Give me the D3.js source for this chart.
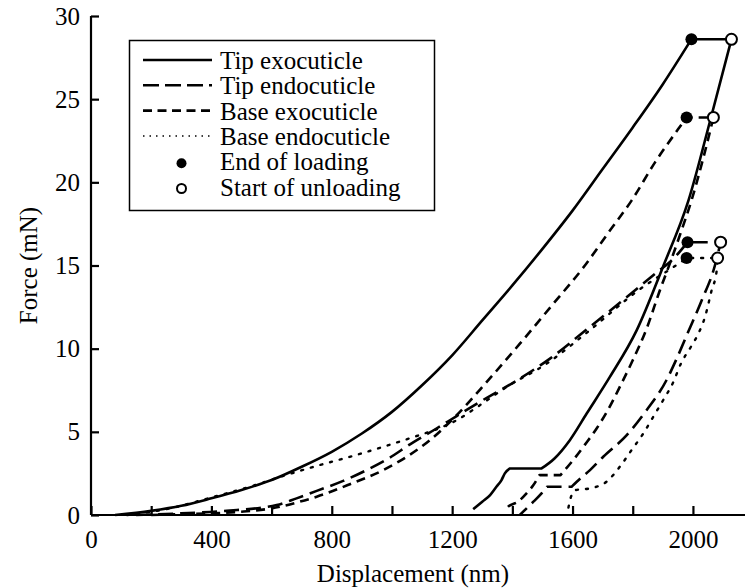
<!DOCTYPE html>
<html>
<head>
<meta charset="utf-8">
<script src="https://cdn.jsdelivr.net/npm/d3@7"></script>
<style>
  html, body { margin: 0; padding: 0; background: #fff; }
  svg { display: block; }
  text { font-family: "Liberation Serif", "Times New Roman", serif; fill: #000; }
</style>
</head>
<body>
<svg id="chart" width="745" height="588"></svg>
<script>
// ---- Data (displacement nm, force mN) ----
const xTickValues = [0, 400, 800, 1200, 1600, 2000];
const xMinorTicks = [200, 600, 1000, 1400, 1800];
const yTickValues = [0, 5, 10, 15, 20, 25, 30];

const tipExoLoading = [[80,0],[200,0.25],[300,0.55],[400,1.0],[500,1.5],[600,2.1],[700,2.9],[800,3.8],[900,4.9],[1000,6.2],[1100,7.8],[1200,9.6],[1300,11.7],[1400,13.8],[1500,16.0],[1600,18.3],[1700,20.8],[1800,23.3],[1900,25.9],[1995,28.6]];
const tipExoUnloading = [[2128,28.6],[2060,23.9],[1985,18.9],[1900,14.9],[1813,11.1],[1724,8.3],[1647,6.1],[1591,4.5],[1540,3.4],[1497,2.8],[1392,2.8],[1375,2.5],[1364,2.1],[1347,1.7],[1326,1.2],[1300,0.8],[1270,0.35]];

const tipEndoLoading = [[150,0],[300,0.1],[450,0.25],[617,0.6],[683,1.0],[750,1.45],[838,2.05],[916,2.7],[993,3.45],[1060,4.25],[1148,5.2],[1215,5.95],[1292,6.8],[1425,8.2],[1525,9.4],[1650,11.2],[1760,12.8],[1874,14.5],[1940,15.5],[1982,16.4]];
const tipEndoUnloading = [[2092,16.4],[2073,15.0],[2029,12.9],[1984,11.0],[1946,9.4],[1912,8.1],[1846,6.3],[1780,4.8],[1702,3.5],[1658,2.7],[1614,2.0],[1597,1.7],[1515,1.7],[1497,1.3],[1470,0.8],[1436,0.2],[1425,0.0]];

const baseExoLoading = [[200,0],[300,0.05],[400,0.1],[500,0.2],[600,0.4],[694,0.8],[750,1.1],[860,1.85],[971,2.7],[1049,3.5],[1126,4.5],[1215,6.0],[1315,8.0],[1425,10.3],[1536,12.7],[1641,15.0],[1720,17.0],[1796,18.9],[1874,21.2],[1951,23.2],[1979,23.9]];
const baseExoUnloading = [[2068,23.9],[2035,21.5],[1995,18.9],[1960,17.0],[1925,15.2],[1890,13.5],[1846,11.2],[1800,9.3],[1757,7.7],[1720,6.4],[1680,5.2],[1640,4.2],[1602,3.3],[1560,2.4],[1490,2.4],[1470,1.8],[1447,1.3],[1419,0.8],[1386,0.5],[1378,0.3]];

const baseEndoLoading = [[120,0],[250,0.35],[409,1.1],[528,1.7],[639,2.35],[750,2.95],[860,3.5],[971,4.1],[1082,4.75],[1148,5.15],[1215,5.7],[1292,6.6],[1381,7.7],[1514,9.1],[1650,11.0],[1818,13.5],[1951,15.1],[1979,15.45]];
const baseEndoUnloading = [[2082,15.45],[2079,14.7],[2062,13.5],[2040,11.9],[2018,10.9],[1993,10.1],[1960,9.1],[1935,8.0],[1901,6.9],[1868,5.9],[1835,4.9],[1796,3.9],[1757,2.9],[1713,2.0],[1658,1.6],[1610,1.5],[1595,1.1],[1588,0.6],[1583,0.1]];

const seriesNames = ["Tip exocuticle", "Tip endocuticle", "Base exocuticle", "Base endocuticle"];
const markerNames = ["End of loading", "Start of unloading"];

// ---- Styles ----
const dashStyles = [null, "15,7", "9,6", "2,8"];
const lineWidth = 2.6;

const svg = d3.select("#chart");
svg.append("rect").attr("width", 745).attr("height", 588).attr("fill", "#fff");

const x = d3.scaleLinear().domain([0, 2173]).range([91, 745]);
const y = d3.scaleLinear().domain([0, 30]).range([515, 16]);

const FONT = 25;

// ---- Axes ----
const xAxis = d3.axisBottom(x)
  .tickValues(xTickValues.concat(xMinorTicks).sort((a,b)=>a-b))
  .tickFormat(d => xTickValues.includes(d) ? d : "")
  .tickSize(-9).tickPadding(15);
const gx = svg.append("g").attr("transform", `translate(0,${y(0)})`).call(xAxis);
gx.select(".domain").attr("stroke-width", 2.2).attr("d", `M${x(0)},0H745`);
gx.selectAll(".tick line").attr("stroke-width", 2.2);
gx.selectAll("text").attr("font-size", FONT).attr("font-family", "Liberation Serif, serif");

const yAxis = d3.axisLeft(y).tickValues(yTickValues).tickSize(-8).tickPadding(11);
const gy = svg.append("g").attr("transform", `translate(${x(0)},0)`).call(yAxis);
gy.select(".domain").attr("stroke-width", 2.2).attr("d", `M0,${y(0)}V${y(30)}`);
gy.selectAll(".tick line").attr("stroke-width", 2.2);
gy.selectAll("text").attr("font-size", FONT).attr("font-family", "Liberation Serif, serif");

svg.append("text").attr("x", 413).attr("y", 582).attr("text-anchor", "middle")
  .attr("font-size", FONT).text("Displacement (nm)");
svg.append("text").attr("transform", `translate(28,${(y(0)+y(30))/2}) rotate(-90)`)
  .attr("text-anchor", "middle").attr("dy", "0.35em")
  .attr("font-size", FONT).text("Force (mN)");

// ---- Curves ----
const smooth = d3.line().x(d => x(d[0])).y(d => y(d[1])).curve(d3.curveMonotoneX);
const straight = d3.line().x(d => x(d[0])).y(d => y(d[1])).curve(d3.curveLinear);
const stripMove = s => s.replace(/^M[^A-Za-z]*/, "");

function runPieces(pts) {
  const pieces = [];
  let cur = [pts[0]];
  for (let i = 1; i < pts.length; i++) {
    const flat = pts[i][1] === pts[i-1][1];
    if (flat) {
      if (cur.length > 1) pieces.push({ pts: cur, smooth: true });
      pieces.push({ pts: [pts[i-1], pts[i]], smooth: false });
      cur = [pts[i]];
    } else {
      cur.push(pts[i]);
    }
  }
  if (cur.length > 1) pieces.push({ pts: cur, smooth: true });
  return pieces;
}

function seriesPath(loading, unloading) {
  const pieces = [{ pts: loading, smooth: true },
    { pts: [loading[loading.length-1], unloading[0]], smooth: false }]
    .concat(runPieces(unloading));
  let d = "";
  pieces.forEach((p, k) => {
    const s = (p.smooth ? smooth : straight)(p.pts);
    d += k === 0 ? s : stripMove(s);
  });
  return d;
}

const loadings = [tipExoLoading, tipEndoLoading, baseExoLoading, baseEndoLoading];
const unloadings = [tipExoUnloading, tipEndoUnloading, baseExoUnloading, baseEndoUnloading];

[3, 2, 1, 0].forEach(i => {
  const p = svg.append("path").attr("d", seriesPath(loadings[i], unloadings[i])).attr("fill", "none")
    .attr("stroke", "#000").attr("stroke-width", lineWidth)
    .attr("stroke-linejoin", "round");
  if (dashStyles[i]) p.attr("stroke-dasharray", dashStyles[i]);
  if (i === 3) p.attr("stroke-linecap", "round").attr("stroke-width", 2.4);
});

loadings.forEach(arr => {
  const e = arr[arr.length - 1];
  svg.append("circle").attr("cx", x(e[0])).attr("cy", y(e[1])).attr("r", 6).attr("fill", "#000");
});
unloadings.forEach(arr => {
  const s = arr[0];
  svg.append("circle").attr("cx", x(s[0])).attr("cy", y(s[1])).attr("r", 5.5)
    .attr("fill", "#fff").attr("stroke", "#000").attr("stroke-width", 2);
});

// ---- Legend ----
const lg = svg.append("g");
lg.append("rect").attr("x", 129.5).attr("y", 40.5).attr("width", 305).attr("height", 170)
  .attr("fill", "#fff").attr("stroke", "#000").attr("stroke-width", 1.5);
const rowBase = 69, rowStep = 25.3;
seriesNames.forEach((name, i) => {
  const by = rowBase + i * rowStep;
  const l = lg.append("line").attr("x1", 143).attr("x2", 212).attr("y1", by - 9).attr("y2", by - 9)
    .attr("stroke", "#000").attr("stroke-width", i === 3 ? 1.5 : 2.6);
  if (i === 1) l.attr("stroke-dasharray", "16,6");
  if (i === 2) l.attr("stroke-dasharray", "9,5.5");
  if (i === 3) l.attr("stroke-dasharray", "1.5,5");
  lg.append("text").attr("x", 220).attr("y", by).attr("font-size", FONT).text(name);
});
markerNames.forEach((name, j) => {
  const by = rowBase + (4 + j) * rowStep;
  const c = lg.append("circle").attr("cx", 181.5).attr("cy", by - 7);
  if (j === 0) c.attr("r", 5).attr("fill", "#000");
  else c.attr("r", 4.5).attr("fill", "#fff").attr("stroke", "#000").attr("stroke-width", 2);
  lg.append("text").attr("x", 220).attr("y", by).attr("font-size", FONT).text(name);
});
</script>
</body>
</html>
